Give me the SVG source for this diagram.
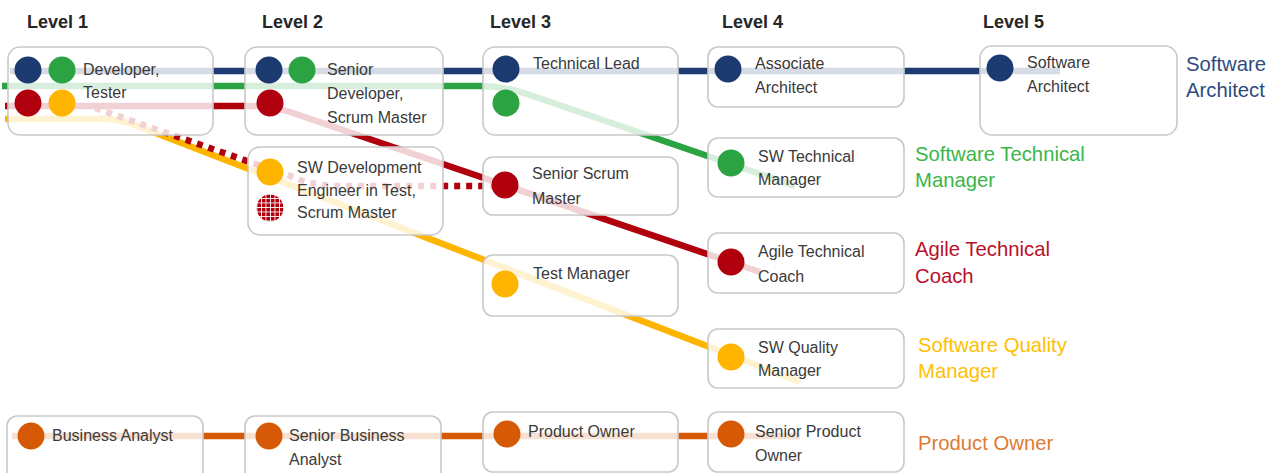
<svg xmlns="http://www.w3.org/2000/svg" width="1280" height="473" viewBox="0 0 1280 473">
<style>
.box{fill:#ffffff;fill-opacity:0.82;stroke:#c9c9c9;stroke-width:1.6}
.t{font-family:"Liberation Sans",Arial,sans-serif;font-size:16px;fill:#3a3a3a}
.h{font-family:"Liberation Sans",Arial,sans-serif;font-size:18px;font-weight:bold;fill:#262626}
.lbl{font-family:"Liberation Sans",Arial,sans-serif;font-size:20.3px}
.ln{fill:none;stroke-width:6.5;stroke-linejoin:round}
.b{fill:#1b3a6f}.g{fill:#2ba342}.r{fill:#b0000e}.y{fill:#ffb400}.o{fill:#d65a06}
</style>
<defs>
<pattern id="grid" width="4.5" height="4.5" patternUnits="userSpaceOnUse">
<rect width="4.5" height="4.5" fill="#b0000e"/>
<path d="M0 0.4H4.5M0.4 0V4.5" stroke="#ffffff" stroke-width="0.9"/>
</pattern>
</defs>
<rect width="1280" height="473" fill="#ffffff"/>
<g id="headers">
<text class="h" x="27" y="28">Level 1</text>
<text class="h" x="262" y="28">Level 2</text>
<text class="h" x="490" y="28">Level 3</text>
<text class="h" x="722" y="28">Level 4</text>
<text class="h" x="983" y="28">Level 5</text>
</g>
<g id="connectors">
<path class="ln" stroke="#1f3c72" d="M10 71 L1060 71"/>
<path class="ln" stroke="#2ba342" d="M2 86 L480 86 Q505 86 530 95 L795 186"/>
<path class="ln" stroke="#ffb400" d="M5 119 L105 119 Q120 119 135 125 L800 382"/>
<path class="ln" stroke="#b0000e" d="M5 106 L255 106 Q272 106 290 112 L760 272"/>
<path class="ln" stroke="#b0000e" stroke-dasharray="6 6" d="M95 108 L290 176 Q310 185 335 186 L505 186"/>
<path class="ln" stroke="#d65a06" d="M12 436 L800 436"/>
</g>
<g id="n-developer"><rect class="box" x="8" y="47" width="205" height="88" rx="12"/>
<circle class="b" cx="28" cy="70" r="13.5"/><circle class="g" cx="62" cy="70" r="13.5"/>
<circle class="r" cx="28" cy="103" r="13.5"/><circle class="y" cx="62" cy="103" r="13.5"/>
<text class="t" x="83" y="75">Developer,</text><text class="t" x="83" y="98">Tester</text></g>
<g id="n-senior-dev"><rect class="box" x="245" y="47" width="198" height="88" rx="12"/>
<circle class="b" cx="269" cy="70" r="13.5"/><circle class="g" cx="302" cy="70" r="13.5"/>
<circle class="r" cx="270" cy="103" r="13.5"/>
<text class="t" x="327" y="75">Senior</text><text class="t" x="327" y="99">Developer,</text><text class="t" x="327" y="123">Scrum Master</text></g>
<g id="n-sdet"><rect class="box" x="248" y="147" width="195" height="88" rx="12"/>
<circle class="y" cx="270" cy="172" r="13.5"/><circle cx="270" cy="208" r="13.5" fill="url(#grid)"/>
<text class="t" x="297" y="173">SW Development</text><text class="t" x="297" y="196">Engineer in Test,</text><text class="t" x="297" y="218">Scrum Master</text></g>
<g id="n-techlead"><rect class="box" x="483" y="47" width="195" height="88" rx="12"/>
<circle class="b" cx="506" cy="69" r="13.5"/><circle class="g" cx="506" cy="103" r="13.5"/>
<text class="t" x="533" y="69">Technical Lead</text></g>
<g id="n-senior-scrum"><rect class="box" x="483" y="157" width="195" height="58" rx="10"/>
<circle class="r" cx="505" cy="185" r="13.5"/>
<text class="t" x="532" y="179">Senior Scrum</text><text class="t" x="532" y="204">Master</text></g>
<g id="n-test-manager"><rect class="box" x="483" y="255" width="195" height="61" rx="10"/>
<circle class="y" cx="505" cy="284" r="13.5"/>
<text class="t" x="533" y="279">Test Manager</text></g>
<g id="n-assoc-arch"><rect class="box" x="708" y="47" width="196" height="60" rx="10"/>
<circle class="b" cx="728" cy="69" r="13.5"/>
<text class="t" x="755" y="69">Associate</text><text class="t" x="755" y="93">Architect</text></g>
<g id="n-sw-tech-mgr"><rect class="box" x="708" y="138" width="196" height="59" rx="10"/>
<circle class="g" cx="731" cy="163" r="13.5"/>
<text class="t" x="758" y="162">SW Technical</text><text class="t" x="758" y="185">Manager</text></g>
<g id="n-agile-coach"><rect class="box" x="708" y="233" width="196" height="60" rx="10"/>
<circle class="r" cx="731" cy="262" r="13.5"/>
<text class="t" x="758" y="257">Agile Technical</text><text class="t" x="758" y="282">Coach</text></g>
<g id="n-sw-quality"><rect class="box" x="708" y="329" width="196" height="59" rx="10"/>
<circle class="y" cx="731" cy="357" r="13.5"/>
<text class="t" x="758" y="353">SW Quality</text><text class="t" x="758" y="376">Manager</text></g>
<g id="n-sw-arch"><rect class="box" x="980" y="46" width="197" height="89" rx="12"/>
<circle class="b" cx="1000" cy="68" r="13.5"/>
<text class="t" x="1027" y="68">Software</text><text class="t" x="1027" y="92">Architect</text></g>
<g id="n-ba"><rect class="box" x="7" y="416" width="196" height="70" rx="10"/>
<circle class="o" cx="31" cy="436" r="13.5"/>
<text class="t" x="52" y="441">Business Analyst</text></g>
<g id="n-senior-ba"><rect class="box" x="245" y="416" width="196" height="70" rx="10"/>
<circle class="o" cx="269" cy="436" r="13.5"/>
<text class="t" x="289" y="441">Senior Business</text><text class="t" x="289" y="465">Analyst</text></g>
<g id="n-po"><rect class="box" x="483" y="412" width="195" height="60" rx="10"/>
<circle class="o" cx="507" cy="434" r="13.5"/>
<text class="t" x="528" y="437">Product Owner</text></g>
<g id="n-senior-po"><rect class="box" x="708" y="412" width="196" height="60" rx="10"/>
<circle class="o" cx="731" cy="434" r="13.5"/>
<text class="t" x="755" y="437">Senior Product</text><text class="t" x="755" y="461">Owner</text></g>
<g id="track-labels">
<text class="lbl" fill="#2e4b80" x="1186" y="71">Software</text><text class="lbl" fill="#2e4b80" x="1186" y="97">Architect</text>
<text class="lbl" fill="#3cb54a" x="915" y="161">Software Technical</text><text class="lbl" fill="#3cb54a" x="915" y="187">Manager</text>
<text class="lbl" fill="#b8102a" x="915" y="256">Agile Technical</text><text class="lbl" fill="#b8102a" x="915" y="283">Coach</text>
<text class="lbl" fill="#ffc000" x="918" y="352">Software Quality</text><text class="lbl" fill="#ffc000" x="918" y="378">Manager</text>
<text class="lbl" fill="#e07a35" x="918" y="450">Product Owner</text>
</g>
</svg>
